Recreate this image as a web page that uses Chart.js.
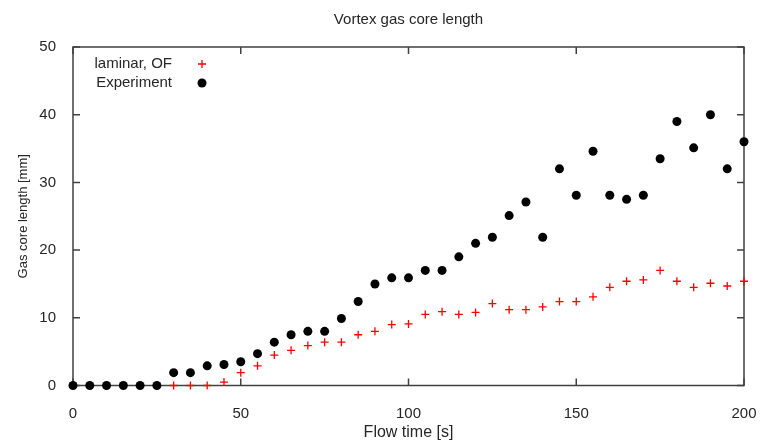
<!DOCTYPE html>
<html>
<head>
<meta charset="utf-8">
<title>Vortex gas core length</title>
<script src="https://cdn.jsdelivr.net/npm/chart.js@4/dist/chart.umd.min.js"></script>
<style>
  body { margin: 0; background: #fff; }
  #chart { display: block; }
</style>
</head>
<body>
<canvas id="chart" width="760" height="443"></canvas>
<script>
// flow time [s]
const times = [0, 5, 10, 15, 20, 25, 30, 35, 40, 45, 50, 55, 60, 65, 70, 75, 80, 85, 90, 95, 100,
  105, 110, 115, 120, 125, 130, 135, 140, 145, 150, 155, 160, 165, 170, 175, 180, 185, 190, 195, 200];

// laminar, OF (simulation) - no points before 30 s
const laminar = [null, null, null, null, null, null, 0, 0, 0, 0.5, 1.9, 2.9, 4.5, 5.2, 5.9, 6.4, 6.4, 7.5, 8.0, 9.0, 9.1,
  10.5, 10.9, 10.5, 10.8, 12.1, 11.2, 11.2, 11.6, 12.4, 12.4, 13.1, 14.5, 15.4, 15.6, 17.0, 15.4, 14.5, 15.1, 14.7, 15.4];

// experiment
const experiment = [0, 0, 0, 0, 0, 0, 1.9, 1.9, 2.9, 3.1, 3.5, 4.7, 6.4, 7.5, 8.0, 8.0, 9.9, 12.4, 15.0, 15.9, 15.9,
  17.0, 17.0, 19.0, 21.0, 21.9, 25.1, 27.1, 21.9, 32.0, 28.1, 34.6, 28.1, 27.5, 28.1, 33.5, 39.0, 35.1, 40.0, 32.0, 36.0];

const seriesNames = ['laminar, OF', 'Experiment'];
const xTicks = [0, 50, 100, 150, 200];
const yTicks = [0, 10, 20, 30, 40, 50];

const textColor = '#262626';
const frameColor = '#404040';

function toPoints(vals) {
  const pts = [];
  vals.forEach(function (v, i) {
    if (v !== null) pts.push({ x: times[i], y: v });
  });
  return pts;
}

// gnuplot style border with inward ticks on all four sides
const framePlugin = {
  id: 'frame',
  beforeDatasetsDraw(chart) {
    const ctx = chart.ctx;
    const a = chart.chartArea;
    const xs = chart.scales.x, ys = chart.scales.y;
    const len = 7;
    ctx.save();
    ctx.strokeStyle = frameColor;
    ctx.lineWidth = 1.5;
    ctx.strokeRect(a.left, a.top, a.right - a.left, a.bottom - a.top);
    ctx.beginPath();
    xTicks.forEach(function (t) {
      const px = xs.getPixelForValue(t);
      ctx.moveTo(px, a.bottom); ctx.lineTo(px, a.bottom - len);
      ctx.moveTo(px, a.top); ctx.lineTo(px, a.top + len);
    });
    yTicks.forEach(function (t) {
      const py = ys.getPixelForValue(t);
      ctx.moveTo(a.left, py); ctx.lineTo(a.left + len, py);
      ctx.moveTo(a.right, py); ctx.lineTo(a.right - len, py);
    });
    ctx.stroke();
    ctx.restore();
  }
};

// legend in the top-left corner: text right aligned, symbol to the right
const keyPlugin = {
  id: 'key',
  afterDatasetsDraw(chart) {
    const ctx = chart.ctx;
    const a = chart.chartArea;
    const textRight = a.left + 99;
    const symX = a.left + 129;
    ctx.save();
    ctx.font = '15px "Liberation Sans", Arial, sans-serif';
    ctx.fillStyle = textColor;
    ctx.textAlign = 'right';
    ctx.textBaseline = 'middle';
    chart.data.datasets.forEach(function (ds, i) {
      const y = a.top + 17 + i * 19;
      ctx.fillText(ds.label, textRight, y);
      ctx.strokeStyle = ds.borderColor;
      ctx.fillStyle = ds.backgroundColor;
      ctx.lineWidth = ds.borderWidth;
      if (ds.pointStyle === 'cross') {
        const r = ds.pointRadius;
        ctx.beginPath();
        ctx.moveTo(symX - r, y); ctx.lineTo(symX + r, y);
        ctx.moveTo(symX, y - r); ctx.lineTo(symX, y + r);
        ctx.stroke();
      } else {
        ctx.beginPath();
        ctx.arc(symX, y, ds.pointRadius, 0, Math.PI * 2);
        ctx.fill();
      }
      ctx.fillStyle = textColor;
    });
    ctx.restore();
  }
};

const ctx = document.getElementById('chart').getContext('2d');
new Chart(ctx, {
  type: 'scatter',
  data: {
    datasets: [{
      label: seriesNames[0],
      data: toPoints(laminar),
      pointStyle: 'cross',
      pointRadius: 4,
      borderColor: '#ff0000',
      backgroundColor: '#ff0000',
      borderWidth: 1.3,
      clip: false,
      order: 1
    }, {
      label: seriesNames[1],
      data: toPoints(experiment),
      pointStyle: 'circle',
      pointRadius: 4.5,
      borderColor: '#000000',
      backgroundColor: '#000000',
      borderWidth: 0,
      clip: false,
      order: 0
    }]
  },
  options: {
    responsive: false,
    animation: false,
    layout: { padding: { left: 0, right: 16, top: 0, bottom: 0 } },
    plugins: {
      legend: { display: false },
      tooltip: { enabled: false },
      title: {
        display: true,
        text: 'Vortex gas core length',
        fullSize: false,
        color: textColor,
        font: { family: '"Liberation Sans", Arial, sans-serif', size: 15, weight: 'normal' },
        padding: { top: 11, bottom: 18 }
      }
    },
    scales: {
      x: {
        type: 'linear',
        min: 0,
        max: 200,
        afterBuildTicks(scale) { scale.ticks = xTicks.map(function (v) { return { value: v }; }); },
        afterFit(scale) {
          scale.height = 57.5;
          scale.paddingLeft = 0;
          scale.paddingRight = 0;
        },
        grid: { display: false },
        border: { display: false },
        ticks: {
          color: textColor,
          padding: 11,
          font: { family: '"Liberation Sans", Arial, sans-serif', size: 15 }
        },
        title: {
          display: true,
          text: 'Flow time [s]',
          color: textColor,
          font: { family: '"Liberation Sans", Arial, sans-serif', size: 16 },
          padding: { top: 0, bottom: 1 }
        }
      },
      y: {
        type: 'linear',
        min: 0,
        max: 50,
        afterBuildTicks(scale) { scale.ticks = yTicks.map(function (v) { return { value: v }; }); },
        afterFit(scale) { scale.width = 73; },
        grid: { display: false },
        border: { display: false },
        ticks: {
          color: textColor,
          padding: 9,
          font: { family: '"Liberation Sans", Arial, sans-serif', size: 15 }
        },
        title: {
          display: true,
          text: 'Gas core length [mm]',
          color: textColor,
          font: { family: '"Liberation Sans", Arial, sans-serif', size: 13 },
          padding: { top: 16, bottom: 0 }
        }
      }
    }
  },
  plugins: [framePlugin, keyPlugin]
});
</script>
</body>
</html>
